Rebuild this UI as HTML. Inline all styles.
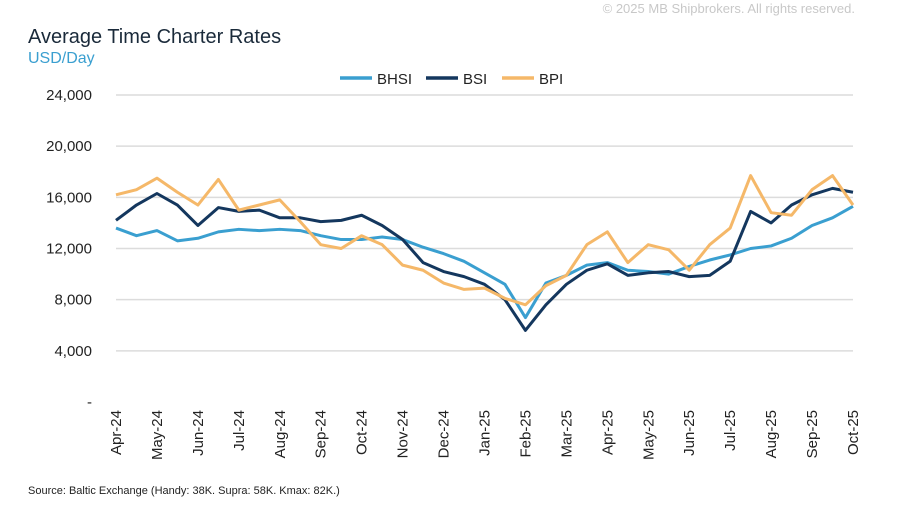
<!DOCTYPE html>
<html><head><meta charset="utf-8"><style>
body{margin:0;background:#fff;font-family:"Liberation Sans","Noto Sans CJK SC",sans-serif;}
</style></head><body>
<svg id="chart" width="898" height="512" xmlns="http://www.w3.org/2000/svg" font-family="Liberation Sans, sans-serif">
<text x="855" y="13" text-anchor="end" font-size="13" fill="#c8c8c8">© 2025 MB Shipbrokers. All rights reserved.</text>
<text x="28" y="43" font-size="20" fill="#1a2a3a">Average Time Charter Rates</text>
<text x="28" y="63" font-size="16" fill="#3a9fd0">USD/Day</text>
<g id="grid"></g><g id="yt"></g><g id="xt"></g><g id="lines"></g>
<g id="legend">
<line x1="340" y1="78" x2="372" y2="78" stroke="#3a9fd0" stroke-width="3.5"/><text x="377" y="84" font-size="15" fill="#222">BHSI</text>
<line x1="426" y1="78" x2="458" y2="78" stroke="#14375e" stroke-width="3.5"/><text x="463" y="84" font-size="15" fill="#222">BSI</text>
<line x1="502" y1="78" x2="534" y2="78" stroke="#f5b869" stroke-width="3.5"/><text x="539" y="84" font-size="15" fill="#222">BPI</text>
</g>
<text x="28" y="494" font-size="11" fill="#222">Source: Baltic Exchange (Handy: 38K. Supra: 58K. Kmax: 82K.)</text>
</svg>
<script>
const months=["Apr-24","May-24","Jun-24","Jul-24","Aug-24","Sep-24","Oct-24","Nov-24","Dec-24","Jan-25","Feb-25","Mar-25","Apr-25","May-25","Jun-25","Jul-25","Aug-25","Sep-25","Oct-25"];
const yTicks=[0,4000,8000,12000,16000,20000,24000];
const yLabels=["-","4,000","8,000","12,000","16,000","20,000","24,000"];
const bhsi=[13600,13000,13400,12600,12800,13300,13500,13400,13500,13400,13000,12700,12700,12900,12700,12100,11600,11000,10100,9200,6600,9300,9900,10700,10900,10300,10200,10000,10600,11100,11500,12000,12200,12800,13800,14400,15300];
const bsi=[14200,15400,16300,15400,13800,15200,14900,15000,14400,14400,14100,14200,14600,13800,12700,10900,10200,9800,9200,8000,5600,7600,9200,10300,10800,9900,10100,10200,9800,9900,11000,14900,14000,15400,16200,16700,16400];
const bpi=[16200,16600,17500,16400,15400,17400,15000,15400,15800,14100,12300,12000,13000,12300,10700,10300,9300,8800,8900,8100,7600,9100,9900,12300,13300,10900,12300,11900,10300,12300,13600,17700,14800,14600,16600,17700,15400];
const NS="http://www.w3.org/2000/svg";
const x0=116,x1=853,yB=402,yT=95;
const xm=m=>x0+(x1-x0)*m/(months.length-1);
const xi=i=>xm(i/2);
const ys=v=>yB-(yB-yT)*v/24000;
function mk(t,a,p){const e=document.createElementNS(NS,t);for(const k in a)e.setAttribute(k,a[k]);document.getElementById(p).appendChild(e);return e;}
yTicks.forEach((v,i)=>{
 if(v>0){const g=mk('line',{x1:x0,x2:x1,y1:ys(v),y2:ys(v),stroke:'#dcdcdc','stroke-width':1.5},'grid');
 
 }
 const t=mk('text',{x:92,y:ys(v)+5,'text-anchor':'end','font-size':15,fill:'#222'},'yt');t.textContent=yLabels[i];
 
 
});
months.forEach((m,i)=>{
 const t=mk('text',{transform:`translate(${xm(i)+5},410) rotate(-90)`,'text-anchor':'end','font-size':15,fill:'#222'},'xt');t.textContent=m;
 
 
});
[[bhsi,'#3a9fd0','bhsi-line'],[bsi,'#14375e','bsi-line'],[bpi,'#f5b869','bpi-line']].forEach(([d,c,n])=>{
 const p=mk('polyline',{points:d.map((v,i)=>xi(i)+','+ys(v)).join(' '),fill:'none',stroke:c,'stroke-width':3,'stroke-linejoin':'round'},'lines');
 
 
});
</script>
</body></html>
